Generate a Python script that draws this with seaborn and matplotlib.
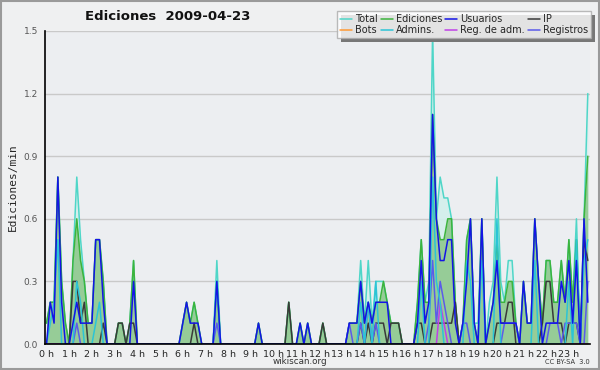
import matplotlib
matplotlib.use("Agg")
import matplotlib.pyplot as plt
from matplotlib.ticker import MultipleLocator
from matplotlib.patches import Rectangle
import matplotlib.patheffects as pe
import numpy as np
import seaborn as sns

# 10-minute bins over the day (144 points)
minutes = np.arange(0, 1440, 10)
hour_ticks = list(range(24))
hour_labels = [f"{h} h" for h in hour_ticks]

# edits per minute, one row = 4 hours
total = [
    .1, .2, .2, .8, .3, .1, 0, .4, .8, .5, .3, .1, .1, .5, .5, .3, 0, 0, 0, .1, .1, 0, .1, .4,
    0, 0, 0, 0, 0, 0, 0, 0, 0, 0, 0, 0, .1, .2, .1, .2, .1, 0, 0, 0, 0, .4, 0, 0,
    0, 0, 0, 0, 0, 0, 0, 0, .1, 0, 0, 0, 0, 0, 0, 0, .2, 0, 0, .1, 0, .1, 0, 0,
    0, .1, 0, 0, 0, 0, 0, 0, .1, .1, .1, .4, .1, .4, .1, .3, .3, .3, .2, .1, .1, .1, 0, 0,
    0, 0, .2, .5, .2, .3, 1.5, .6, .8, .7, .7, .6, .2, 0, .1, .5, .6, .1, .1, .6, 0, .2, .3, .8,
    .3, .2, .4, .4, .1, 0, .3, .1, .1, .6, .3, .1, .4, .4, .2, .2, .4, .2, .5, .2, .6, 0, .6, 1.2,
]
ediciones = [
    .1, .2, .2, .8, .3, .1, 0, .4, .6, .4, .3, .1, .1, .5, .5, .3, 0, 0, 0, .1, .1, 0, .1, .4,
    0, 0, 0, 0, 0, 0, 0, 0, 0, 0, 0, 0, .1, .2, .1, .2, .1, 0, 0, 0, 0, .3, 0, 0,
    0, 0, 0, 0, 0, 0, 0, 0, .1, 0, 0, 0, 0, 0, 0, 0, .2, 0, 0, .1, 0, .1, 0, 0,
    0, .1, 0, 0, 0, 0, 0, 0, .1, .1, .1, .3, .1, .2, .1, .2, .2, .3, .2, .1, .1, .1, 0, 0,
    0, 0, .2, .5, .2, .2, 1.1, .6, .5, .5, .6, .6, .2, 0, .1, .5, .6, .1, 0, .6, 0, .1, .2, .5,
    .2, .2, .3, .3, .1, 0, .3, .1, .1, .6, .3, .1, .4, .4, .2, .2, .4, .2, .5, .2, .5, 0, .6, .9,
]
usuarios = [
    0, .2, .1, .8, .2, 0, 0, .1, .2, .1, .1, .1, .1, .5, .5, .2, 0, 0, 0, 0, 0, 0, 0, .3,
    0, 0, 0, 0, 0, 0, 0, 0, 0, 0, 0, 0, .1, .2, .1, .1, .1, 0, 0, 0, 0, .3, 0, 0,
    0, 0, 0, 0, 0, 0, 0, 0, .1, 0, 0, 0, 0, 0, 0, 0, 0, 0, 0, .1, 0, .1, 0, 0,
    0, 0, 0, 0, 0, 0, 0, 0, .1, .1, .1, .3, .1, .2, .1, .2, .2, .2, .2, 0, 0, 0, 0, 0,
    0, 0, .1, .4, .1, .2, 1.1, .6, .4, .4, .5, .5, .1, 0, .1, .3, .6, .1, 0, .6, 0, .1, .2, .4,
    .1, .1, .1, .1, .1, 0, .3, .1, .1, .6, .3, 0, .1, .1, .1, .1, .3, .2, .4, .1, .4, 0, .6, .2,
]
ip = [
    0, 0, 0, 0, 0, 0, 0, .3, .3, .1, .2, 0, 0, 0, 0, .1, 0, 0, 0, .1, .1, 0, .1, .1,
    0, 0, 0, 0, 0, 0, 0, 0, 0, 0, 0, 0, 0, 0, 0, .1, 0, 0, 0, 0, 0, 0, 0, 0,
    0, 0, 0, 0, 0, 0, 0, 0, 0, 0, 0, 0, 0, 0, 0, 0, .2, 0, 0, 0, 0, 0, 0, 0,
    0, .1, 0, 0, 0, 0, 0, 0, 0, 0, 0, .1, 0, .1, 0, .1, .1, .1, 0, .1, .1, .1, 0, 0,
    0, 0, .1, .1, 0, 0, .1, .1, .1, .1, .1, .1, .2, 0, 0, 0, 0, 0, 0, 0, 0, 0, 0, .1,
    .1, .1, .2, .2, 0, 0, 0, 0, 0, 0, 0, .1, .3, .3, .1, .1, .1, 0, .1, .1, .1, 0, .5, .4,
]
bots = [0] * 144
admins = [
    0, .1, .2, .5, 0, 0, 0, 0, .3, .2, 0, 0, 0, .1, .2, 0, 0, 0, 0, 0, 0, 0, 0, 0,
    0, 0, 0, 0, 0, 0, 0, 0, 0, 0, 0, 0, 0, 0, 0, 0, 0, 0, 0, 0, 0, .3, 0, 0,
    0, 0, 0, 0, 0, 0, 0, 0, 0, 0, 0, 0, 0, 0, 0, 0, 0, 0, 0, 0, 0, 0, 0, 0,
    0, 0, 0, 0, 0, 0, 0, 0, 0, 0, 0, .2, 0, .2, 0, .3, 0, 0, 0, 0, 0, 0, 0, 0,
    0, 0, 0, .3, 0, 0, .8, .3, .2, 0, 0, 0, 0, 0, 0, .4, .3, 0, 0, .4, 0, 0, 0, .6,
    0, 0, 0, 0, 0, 0, 0, 0, 0, .4, 0, 0, 0, 0, 0, 0, 0, 0, .3, 0, .5, 0, .4, .5,
]
reg_adm = [
    0, 0, 0, 0, 0, 0, 0, 0, 0, 0, 0, 0, 0, 0, 0, 0, 0, 0, 0, 0, 0, 0, 0, 0,
    0, 0, 0, 0, 0, 0, 0, 0, 0, 0, 0, 0, 0, 0, 0, 0, 0, 0, 0, 0, 0, 0, 0, 0,
    0, 0, 0, 0, 0, 0, 0, 0, 0, 0, 0, 0, 0, 0, 0, 0, 0, 0, 0, 0, 0, 0, 0, 0,
    0, 0, 0, 0, 0, 0, 0, 0, 0, 0, 0, 0, 0, 0, 0, 0, 0, 0, 0, 0, 0, 0, 0, 0,
    0, 0, 0, 0, 0, 0, 0, 0, .2, .1, 0, 0, 0, 0, 0, 0, 0, 0, 0, 0, 0, 0, 0, 0,
    0, 0, 0, 0, 0, 0, 0, 0, 0, 0, 0, 0, 0, 0, 0, 0, 0, 0, 0, 0, 0, 0, 0, 0,
]
registros = [
    0, 0, 0, 0, 0, 0, 0, 0, .1, 0, 0, 0, 0, 0, 0, 0, 0, 0, 0, 0, 0, 0, 0, 0,
    0, 0, 0, 0, 0, 0, 0, 0, 0, 0, 0, 0, 0, 0, 0, 0, 0, 0, 0, 0, 0, .1, 0, 0,
    0, 0, 0, 0, 0, 0, 0, 0, 0, 0, 0, 0, 0, 0, 0, 0, 0, 0, 0, 0, 0, 0, 0, 0,
    0, 0, 0, 0, 0, 0, 0, 0, .1, 0, 0, .1, 0, .2, 0, .1, 0, 0, 0, 0, 0, 0, 0, 0,
    0, 0, 0, 0, 0, .1, .4, .1, .3, .2, .1, 0, 0, 0, .1, .1, 0, 0, 0, 0, 0, 0, 0, 0,
    0, .1, .1, .1, .1, 0, 0, 0, 0, 0, 0, 0, 0, .1, .1, .1, 0, .1, .1, .1, .1, 0, 0, .3,
]

hours = minutes / 60

sns.set_style("white")
plt.rcParams["font.family"] = ["DejaVu Sans"]

fig = plt.figure(figsize=(6, 3.7), dpi=100, facecolor="#eff0f1")
ax = fig.add_axes([45 / 600, 1 - 344 / 370, 545 / 600, 313 / 370])
ax.set_facecolor("#eceef1")

# filled areas
ax.fill_between(hours, total, color="#d3f0ec", alpha=0.9, lw=0, zorder=1)
ax.fill_between(hours, ediciones, color="#93cb93", alpha=0.95, lw=0, zorder=1.2)

lines = [
    ("Total", total, "#4fd6c8", 2.2),
    ("Ediciones", ediciones, "#3cb43c", 2.3),
    ("Bots", bots, "#ff9933", 2.35),
    ("IP", ip, "#3a3a3a", 2.4),
    ("Registros", registros, "#5b5bea", 2.5),
    ("Reg. de adm.", reg_adm, "#c040e8", 2.6),
    ("Admins.", admins, "#2cc4d6", 2.7),
    ("Usuarios", usuarios, "#1414e6", 2.8),
]
for name, vals, col, z in lines:
    sns.lineplot(x=hours, y=vals, color=col, lw=1.1, ax=ax, label=name, zorder=z)

handles, labels = ax.get_legend_handles_labels()
ax.get_legend().remove()

ax.set_xlim(-0.066, 23.93)
ax.set_ylim(0, 1.5)
ax.set_xticks(hour_ticks)
ax.set_xticklabels(hour_labels, fontsize=6.8)
ax.xaxis.set_minor_locator(MultipleLocator(1 / 6))
ax.set_yticks([0, .3, .6, .9, 1.2, 1.5])
ax.set_yticklabels(["0.0", "0.3", "0.6", "0.9", "1.2", "1.5"], fontsize=6.5, color="#555555")
ax.yaxis.set_minor_locator(MultipleLocator(0.075))
ax.tick_params(axis="both", which="major", direction="out", length=4, width=1, color="black", pad=1)
ax.tick_params(axis="both", which="minor", direction="out", length=2.5, width=1, color="black")
ax.tick_params(axis="x", which="major", pad=0)
ax.grid(axis="y", color="#c9c9c9", lw=1)
ax.set_axisbelow(True)
for s in ["top", "right"]:
    ax.spines[s].set_visible(False)
for s in ["left", "bottom"]:
    ax.spines[s].set_color("black")
    ax.spines[s].set_linewidth(1.2)
    ax.spines[s].set_zorder(5)
ax.set_xlabel("")
ax.set_ylabel("Ediciones/min", fontsize=8, family="DejaVu Sans Mono", labelpad=4)

# legend: columns Total/Bots, Ediciones/Admins, Usuarios/Reg, IP/Registros
hmap = dict(zip(labels, handles))
order = ["Total", "Bots", "Ediciones", "Admins.", "Usuarios", "Reg. de adm.", "IP", "Registros"]
leg = fig.legend([hmap[k] for k in order], order, ncol=4, loc="upper right",
                 bbox_to_anchor=(591 / 600, 1 - 11 / 370), fontsize=7.0, frameon=True,
                 fancybox=False, shadow=False, handlelength=1.2, handletextpad=0.35,
                 columnspacing=0.3, labelspacing=0.15, borderpad=0.3, borderaxespad=0)
leg.get_frame().set_edgecolor("#aaaaaa")
leg.get_frame().set_facecolor("white")
leg.get_frame().set_linewidth(1)
leg.get_frame().set_path_effects([pe.withSimplePatchShadow(offset=(3, -3), shadow_rgbFace="#777777", alpha=1)])
leg.set_zorder(20)

fig.text(85 / 600, 1 - 16 / 370, "Ediciones  2009-04-23", fontsize=9.5, fontweight="bold",
         va="center", ha="left", color="#111111")
fig.text(300 / 600, 1 - 362 / 370, "wikiscan.org", fontsize=6.3, ha="center", va="center", color="#333333")
fig.text(590 / 600, 1 - 362 / 370, "CC BY-SA  3.0", fontsize=4.8, ha="right", va="center", color="#333333")

fig.patches.append(Rectangle((0.001, 0.002), 0.997, 0.995, transform=fig.transFigure,
                             fill=False, edgecolor="#9a9a9a", lw=1.5))

fig.savefig("out.png", dpi=100, facecolor=fig.get_facecolor())
